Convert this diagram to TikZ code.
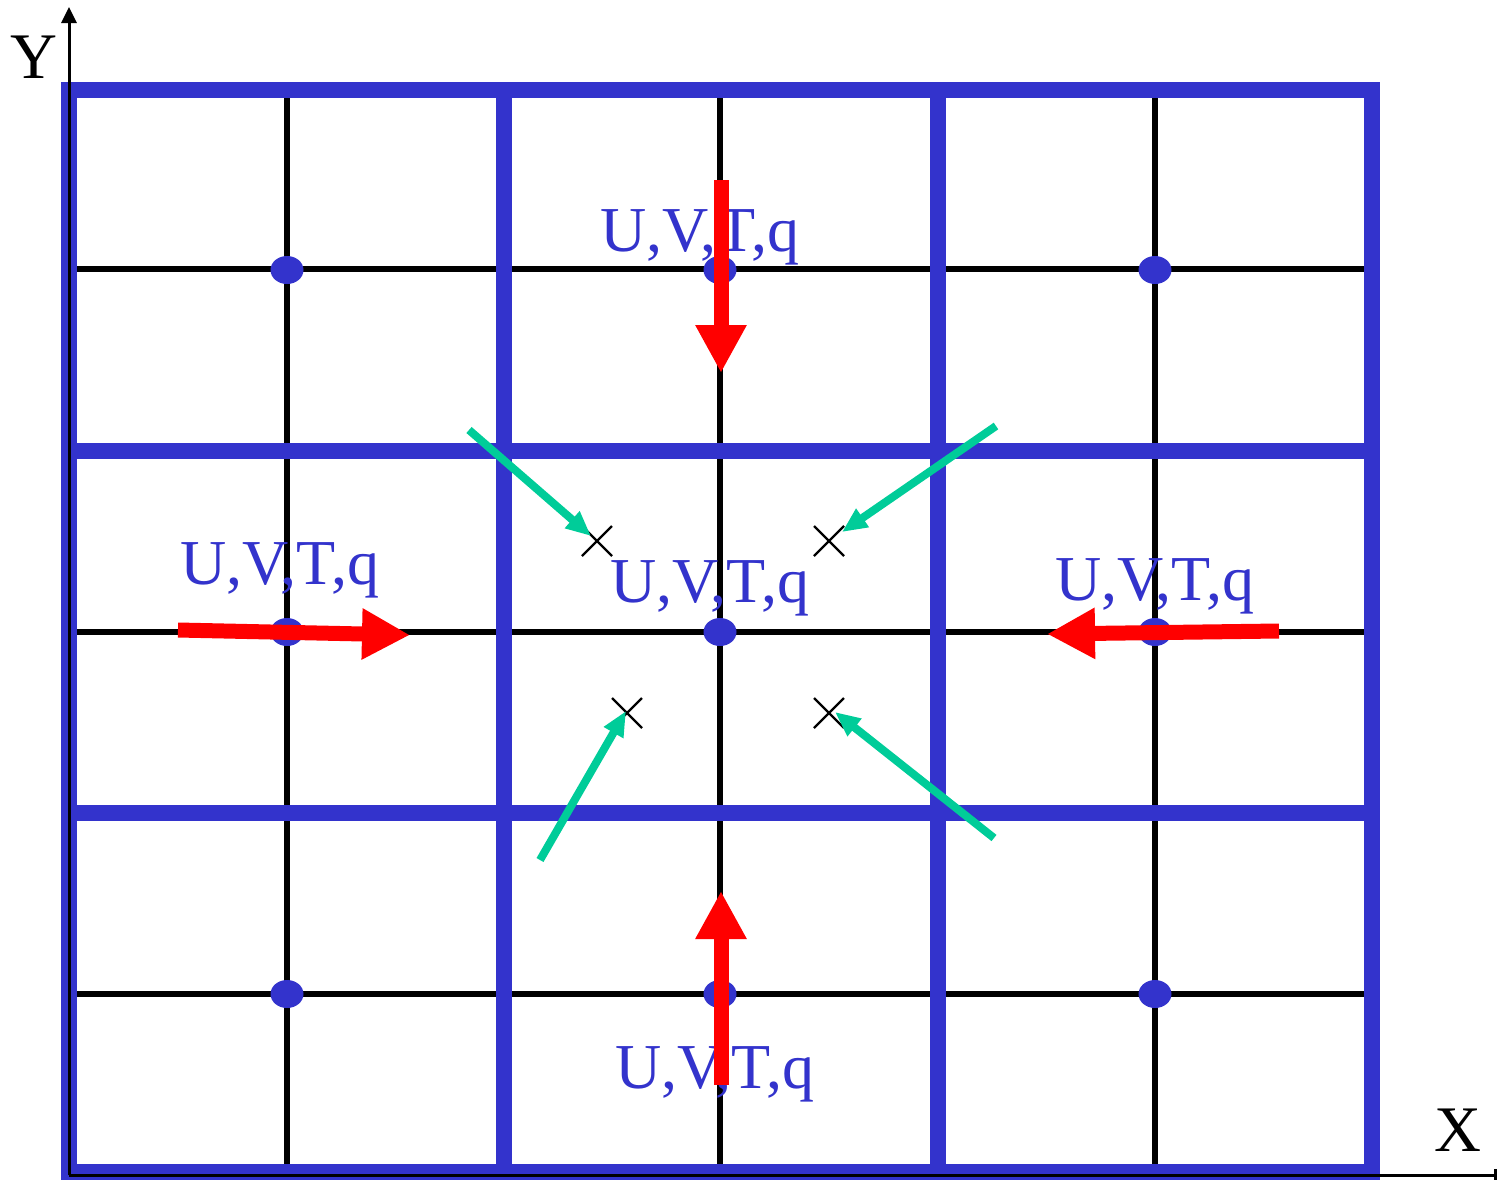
\documentclass[tikz,border=0pt]{standalone}
\usepackage{fontspec}
\setmainfont{Liberation Serif}
\usetikzlibrary{arrows.meta,shapes.geometric}
\definecolor{gridblue}{HTML}{3333CC}
\definecolor{flowred}{HTML}{FF0000}
\definecolor{flowgreen}{HTML}{00CC99}
\begin{document}
\begin{tikzpicture}[x=0.5pt,y=-0.5pt,
  blueline/.style={draw=gridblue,line width=8pt},
  blackline/.style={draw=black,line width=3.3pt},
  dotnode/.style={ellipse,fill=gridblue,draw=none,minimum width=16.5pt,minimum height=14pt,inner sep=0pt},
  varlabel/.style={text=gridblue,font=\fontsize{32}{38}\selectfont,anchor=base,inner sep=0pt},
  axislabel/.style={text=black,font=\fontsize{32.5}{38}\selectfont,anchor=base,inner sep=0pt},
  redarrow/.style={draw=flowred,line width=7.5pt,-{Triangle[length=24pt,width=24pt]},fill=flowred},
  greenarrow/.style={draw=flowgreen,line width=4pt,-{Triangle[length=12.5pt,width=10.5pt]},fill=flowgreen},
  crossmark/.style={draw=black,line width=1.2pt}]
\useasboundingbox (0,0) rectangle (1499,1179);
% black fine grid
\foreach \yy in {269,632,994} \draw[blackline] (69,\yy) -- (1372,\yy);
\foreach \xx in {287,720,1155} \draw[blackline] (\xx,89.5) -- (\xx,1172);
% blue coarse grid
\draw[blueline,line join=miter] (69,89.5) rectangle (1372,1172);
\foreach \yy in {451,813} \draw[blueline] (69,\yy) -- (1372,\yy);
\foreach \xx in {504,938} \draw[blueline] (\xx,89.5) -- (\xx,1172);
% dots
\node[dotnode] (d11) at (287,270) {};
\node[dotnode] (d12) at (720,270) {};
\node[dotnode] (d13) at (1155,270) {};
\node[dotnode] (d21) at (287,632) {};
\node[dotnode] (d22) at (720,632) {};
\node[dotnode] (d23) at (1155,632) {};
\node[dotnode] (d31) at (287,994) {};
\node[dotnode] (d32) at (720,994) {};
\node[dotnode] (d33) at (1155,994) {};
% labels
\node[varlabel] (ltop) at (700,251) {U,V,T,q};
\node[varlabel] (lcen) at (710,602) {U,V,T,q};
\node[varlabel] (lleft) at (280,584) {U,V,T,q};
\node[varlabel] (lright) at (1155,600) {U,V,T,q};
\node[varlabel] (lbot) at (715,1088) {U,V,T,q};
% crosses
\coordinate (c1) at (597,541);
\coordinate (c2) at (829,541);
\coordinate (c3) at (627,713);
\coordinate (c4) at (829,713);
\foreach \c in {c1,c2,c3,c4}
  \draw[crossmark] ([shift={(-15,-15)}]\c) -- ([shift={(15,15)}]\c)
                   ([shift={(-15,15)}]\c) -- ([shift={(15,-15)}]\c);
% red arrows
\coordinate (rt0) at (721,180); \coordinate (rt1) at (721,373);
\coordinate (rl0) at (178,630); \coordinate (rl1) at (410,635);
\coordinate (rr0) at (1279,631); \coordinate (rr1) at (1047,634);
\coordinate (rb0) at (721,1085); \coordinate (rb1) at (721,891);
\draw[redarrow] (rt0) -- (rt1);
\draw[redarrow] (rl0) -- (rl1);
\draw[redarrow] (rr0) -- (rr1);
\draw[redarrow] (rb0) -- (rb1);
% green arrows
\coordinate (g1) at (469,430); \coordinate (g1t) at (591,536);
\coordinate (g2) at (996,426); \coordinate (g2t) at (842,532);
\coordinate (g3) at (540,860); \coordinate (g3t) at (626,711);
\coordinate (g4) at (994,838); \coordinate (g4t) at (835,712);
\draw[greenarrow] (g1) -- (g1t);
\draw[greenarrow] (g2) -- (g2t);
\draw[greenarrow] (g3) -- (g3t);
\draw[greenarrow] (g4) -- (g4t);
% axes
\coordinate (origin) at (69,1175);
\coordinate (yend) at (69,7);
\coordinate (xend) at (1497,1175);
\draw[line width=1.5pt,-{Triangle[length=8pt,width=7.5pt]}] (origin) -- (yend);
\draw[line width=1.5pt,-{Bar[width=6pt,line width=1.5pt]}] (origin) -- (xend);
\node[axislabel] (ylab) at (34,78) {Y};
\node[axislabel] (xlab) at (1458,1151) {X};
\end{tikzpicture}
\end{document}
